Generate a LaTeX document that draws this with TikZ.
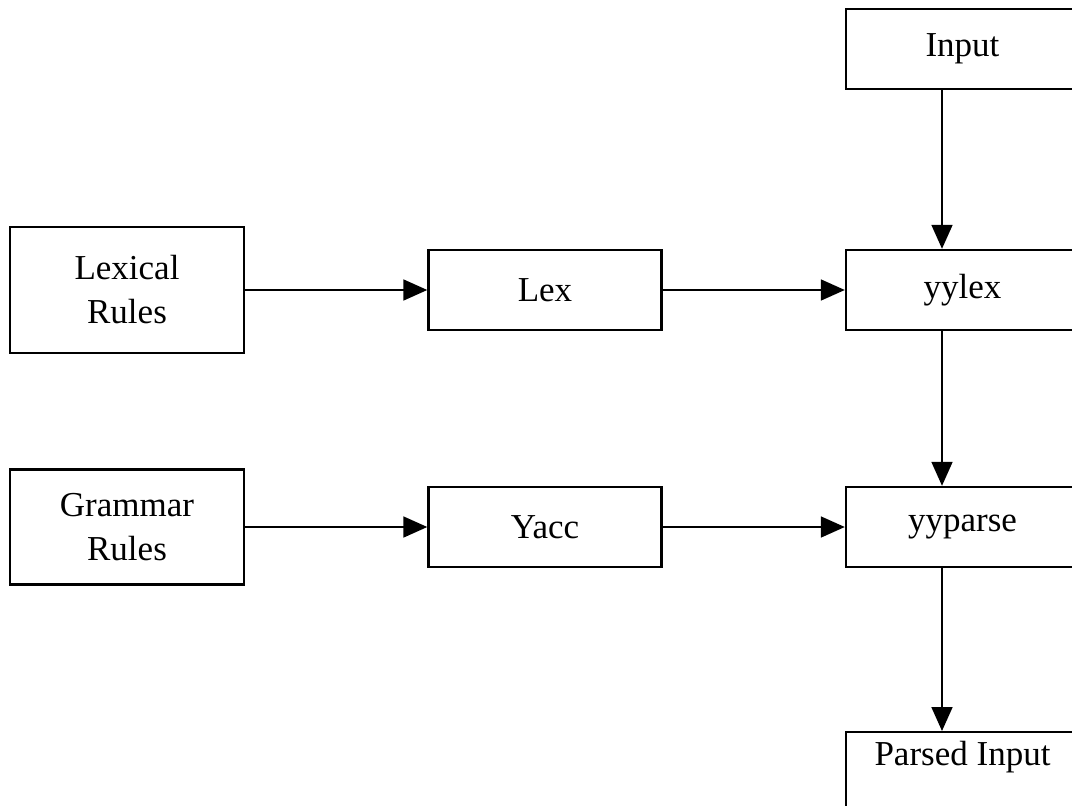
\documentclass[tikz,border=0pt]{standalone}
\usepackage{fontspec}
\setmainfont{Liberation Serif}
\usetikzlibrary{arrows.meta}
\tikzset{
    block/.style={draw,line width=2.4pt,minimum width=233pt,minimum height=80pt,align=center,
        font=\fontsize{35}{44}\selectfont},
    flow/.style={line width=1.8pt,-{Triangle[length=24pt,width=21pt]}}
}
\begin{document}
\begin{tikzpicture}[x=1pt,y=-1pt]
        %Frame
            \useasboundingbox (0,0) rectangle (1072,806);
            \clip (0,0) rectangle (1072,806);
        %Sources
            \path node[block,minimum width=234pt,minimum height=126pt] (lexrules) at (127,290) {Lexical\\Rules};
            \path node[block,minimum width=234pt,minimum height=115pt] (gramrules) at (127,527) {Grammar\\Rules};
        %Generators
            \path node[block] (lex) at (545,290) {Lex};
            \path node[block] (yacc) at (545,527) {Yacc};
        %Runtime
            \path node[block] (input) at (962.5,49) {Input};
            \path node[block] (yylex) at (962.5,290) {yylex};
            \path node[block] (yyparse) at (962.5,527) {yyparse};
            \path node[block,anchor=north,inner ysep=8pt,text height=25pt,text depth=60pt] (parsed) at (962.5,731) {Parsed Input};
        %Horizontal flow
            \draw[flow] (lexrules.east) -- (lex.west);
            \draw[flow] (lex.east) -- (yylex.west);
            \draw[flow] (gramrules.east) -- (yacc.west);
            \draw[flow] (yacc.east) -- (yyparse.west);
        %Vertical flow
            \draw[flow] ([xshift=-20.5pt]input.south) -- ([xshift=-20.5pt]yylex.north);
            \draw[flow] ([xshift=-20.5pt]yylex.south) -- ([xshift=-20.5pt]yyparse.north);
            \draw[flow] ([xshift=-20.5pt]yyparse.south) -- ([xshift=-20.5pt]parsed.north);
    \end{tikzpicture}
\end{document}
